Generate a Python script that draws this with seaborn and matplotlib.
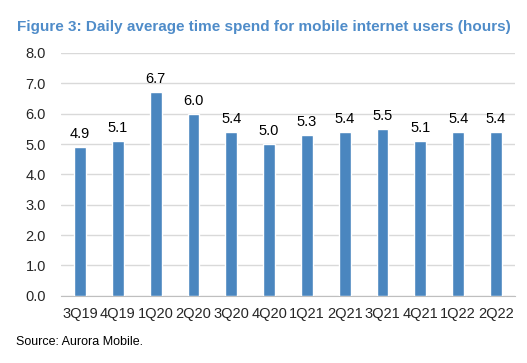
import numpy as np
import pandas as pd
import matplotlib
matplotlib.use("Agg")
import matplotlib.pyplot as plt
import seaborn as sns

quarters = ["3Q19", "4Q19", "1Q20", "2Q20", "3Q20", "4Q20",
            "1Q21", "2Q21", "3Q21", "4Q21", "1Q22", "2Q22"]
hours = [4.9, 5.1, 6.7, 6.0, 5.4, 5.0, 5.3, 5.4, 5.5, 5.1, 5.4, 5.4]
yticks = [0.0, 1.0, 2.0, 3.0, 4.0, 5.0, 6.0, 7.0, 8.0]

df = pd.DataFrame({"quarter": quarters, "hours": hours})

sns.set_style("white")
plt.rcParams["font.family"] = ["Liberation Sans", "DejaVu Sans"]

fig = plt.figure(figsize=(5.27, 3.63), dpi=100)
ax = fig.add_axes([0.116, 0.185, 0.861, 0.669])

sns.barplot(data=df, x="quarter", y="hours", color="#4a86bf", saturation=1,
            width=0.31, ax=ax, zorder=3)

# value labels above bars
for i, v in enumerate(hours):
    ax.text(i, v + 0.2, f"{v:.1f}", ha="center", va="bottom", fontsize=10.5, color="black")

ax.set_ylim(0, 8)
ax.set_xlim(-0.5, len(quarters) - 0.5)
ax.set_yticks(yticks)
ax.set_yticklabels([f"{t:.1f}" for t in yticks], fontsize=10.5)
ax.tick_params(axis="x", which="major", length=0, labelsize=10.5, pad=8)
ax.tick_params(axis="y", length=0, pad=11)
ax.set_xticks(np.arange(-0.5, len(quarters)), minor=True)
ax.tick_params(axis="x", which="minor", length=5, color="#bfbfbf", width=1)
ax.grid(axis="y", color="#d9d9d9", linewidth=1, zorder=0)
ax.set_xlabel("")
ax.set_ylabel("")
for s in ["top", "right", "left"]:
    ax.spines[s].set_visible(False)
ax.spines["bottom"].set_color("#bfbfbf")

fig.text(0.5, 0.925, "Figure 3: Daily average time spend for mobile internet users (hours)",
         ha="center", va="center", fontsize=11, fontweight="bold", color="#4f8cc9")
fig.text(0.03, 0.058, "Source: Aurora Mobile.", ha="left", va="center", fontsize=9, color="black")

fig.savefig("out.png", dpi=100)
